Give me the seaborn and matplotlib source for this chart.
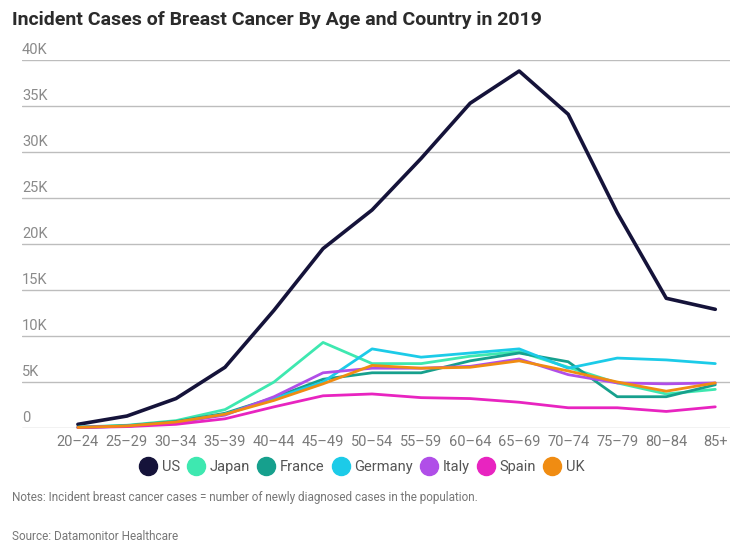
import matplotlib
matplotlib.use("Agg")
import matplotlib.pyplot as plt
import pandas as pd
import seaborn as sns
from matplotlib.lines import Line2D

ages = ["20–24", "25–29", "30–34", "35–39", "40–44", "45–49", "50–54",
        "55–59", "60–64", "65–69", "70–74", "75–79", "80–84", "85+"]
us = [400, 1300, 3200, 6600, 12800, 19500, 23700, 29300, 35300, 38800, 34100, 23400, 14100, 12900]
japan = [100, 300, 800, 2000, 5000, 9300, 7000, 7000, 7800, 8300, 6600, 4900, 3700, 4200]
france = [80, 250, 700, 1600, 3300, 5300, 6000, 6000, 7300, 8150, 7200, 3400, 3400, 4700]
germany = [50, 200, 600, 1500, 3200, 5000, 8600, 7700, 8150, 8600, 6500, 7600, 7400, 7000]
italy = [60, 200, 600, 1400, 3400, 6000, 6500, 6500, 6700, 7500, 5800, 4900, 4800, 4900]
spain = [50, 150, 400, 1000, 2300, 3500, 3700, 3300, 3200, 2800, 2200, 2200, 1800, 2300]
uk = [60, 220, 650, 1500, 3000, 4800, 6800, 6500, 6600, 7300, 6200, 5000, 4000, 4900]

countries = ["US", "Japan", "France", "Germany", "Italy", "Spain", "UK"]
colors = ["#15133a", "#3ee8b0", "#16a08d", "#1ccbe8", "#b04ee8", "#e824c0", "#f08c12"]
series = [us, japan, france, germany, italy, spain, uk]

rows = []
for c, vals in zip(countries, series):
    for i, v in enumerate(vals):
        rows.append({"age": i, "country": c, "cases": v})
df = pd.DataFrame(rows)

sns.set_style("white")
plt.rcParams["font.family"] = ["Roboto", "DejaVu Sans"]

fig = plt.figure(figsize=(7.3, 5.44), dpi=100)
ax = fig.add_axes([22 / 730, 116 / 544, 708 / 730, 368 / 544])

sns.lineplot(data=df, x="age", y="cases", hue="country", hue_order=countries,
             palette=colors, linewidth=2.0, legend=False, ax=ax, clip_on=False)
# US line a bit heavier
for ln in ax.lines[:1]:
    ln.set_linewidth(2.6)

ax.set_ylim(0, 40000)
ax.set_xlim(-1.14, 13.3)
ax.set_yticks(range(0, 40001, 5000))
ax.set_yticklabels([])
ax.tick_params(axis="y", length=0)
ax.grid(axis="y", color="#bdbdbd", linewidth=1)
ax.set_axisbelow(True)
for s in ax.spines.values():
    s.set_visible(False)
ax.set_xticks(range(len(ages)))
ax.set_xticklabels(ages, color="#7a7a7a", fontsize=10.5)
ax.tick_params(axis="x", length=0, pad=5)
ax.set_xlabel("")
ax.set_ylabel("")

ylabels = ["0", "5K", "10K", "15K", "20K", "25K", "30K", "35K", "40K"]
for k, lab in enumerate(ylabels):
    ax.text(0, k * 5000 + 350, lab, transform=ax.get_yaxis_transform(),
            ha="left", va="bottom", color="#8a8a8a", fontsize=10.5)

fig.text(12 / 730, 1 - 20 / 544, "Incident Cases of Breast Cancer By Age and Country in 2019",
         fontsize=14, fontweight="bold", color="#2b2b2b", va="center", ha="left")

handles = [Line2D([0], [0], marker="o", linestyle="", markersize=13,
                  markerfacecolor=col, markeredgecolor=col) for col in colors]
fig.legend(handles, countries, loc="center", bbox_to_anchor=(362 / 730, 1 - 467 / 544),
           ncol=7, frameon=False, fontsize=10.5, handletextpad=0.35, columnspacing=0.5,
           handlelength=1.2, labelcolor="#555555")

fig.text(12 / 730, 1 - 497 / 544,
         "Notes: Incident breast cancer cases = number of newly diagnosed cases in the population.",
         fontsize=8.5, color="#777777", va="center", ha="left")
fig.text(12 / 730, 1 - 537 / 544, "Source: Datamonitor Healthcare",
         fontsize=8.5, color="#777777", va="center", ha="left")

fig.savefig("out.png", dpi=100)
